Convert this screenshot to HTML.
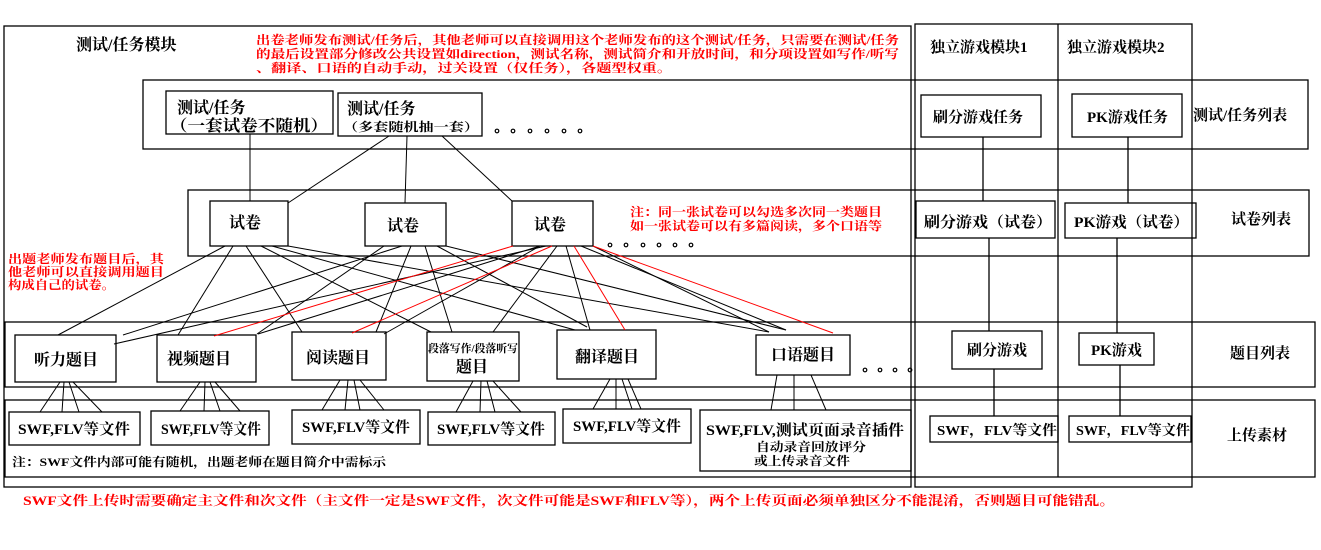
<!DOCTYPE html>
<html><head><meta charset="utf-8"><style>
html,body{margin:0;padding:0;background:#fff;}
svg{display:block;}
text{font-family:"Liberation Serif","Noto Serif CJK SC",serif;font-weight:bold;fill:#000;}
.r{fill:#f00;}
</style></head><body>
<svg width="1321" height="550" viewBox="0 0 1321 550" xmlns="http://www.w3.org/2000/svg">
<g fill="none" stroke="#000" stroke-width="1.3">
<rect x="4" y="26" width="907" height="461"/>
<rect x="915" y="24" width="277" height="463"/>
<line x1="1058" y1="24" x2="1058" y2="477"/>
<rect x="143" y="80" width="1165" height="69"/>
<rect x="188" y="190" width="1121" height="66"/>
<rect x="5" y="322" width="1310" height="65"/>
<rect x="5" y="400" width="1310" height="77"/>
<rect x="166" y="91" width="167" height="43"/>
<rect x="338" y="93" width="144" height="43"/>
<rect x="210" y="201" width="78" height="45"/>
<rect x="365" y="203" width="81" height="43"/>
<rect x="512" y="201" width="81" height="45"/>
<rect x="15" y="335" width="101" height="47"/>
<rect x="157" y="335" width="99" height="47"/>
<rect x="292" y="332" width="94" height="48"/>
<rect x="427" y="332" width="92" height="49"/>
<rect x="557" y="330" width="99" height="49"/>
<rect x="756" y="335" width="94" height="40"/>
<rect x="9" y="412" width="131" height="33"/>
<rect x="151" y="411" width="118" height="34"/>
<rect x="292" y="410" width="128" height="34"/>
<rect x="428" y="412" width="127" height="33"/>
<rect x="563" y="409" width="128" height="34"/>
<rect x="700" y="410" width="211" height="61"/>
<rect x="921" y="95" width="120" height="42"/>
<rect x="1072" y="94" width="110" height="43"/>
<rect x="916" y="201" width="139" height="37"/>
<rect x="1065" y="203" width="131" height="35"/>
<rect x="952" y="331" width="90" height="38"/>
<rect x="1079" y="333" width="75" height="32"/>
<rect x="930" y="416" width="128" height="26"/>
<rect x="1069" y="416" width="122" height="26"/>
<line x1="983" y1="137" x2="983" y2="201"/>
<line x1="1128" y1="137" x2="1128" y2="203"/>
<line x1="989" y1="238" x2="989" y2="331"/>
<line x1="1117" y1="238" x2="1117" y2="333"/>
<line x1="994" y1="369" x2="994" y2="416"/>
<line x1="1120" y1="365" x2="1120" y2="416"/>
</g>
<g fill="none" stroke="#000" stroke-width="1.2">
<circle cx="497" cy="131" r="1.8"/><circle cx="513" cy="131" r="1.8"/><circle cx="530" cy="131" r="1.8"/><circle cx="547" cy="131" r="1.8"/><circle cx="564" cy="131" r="1.8"/><circle cx="580" cy="131" r="1.8"/>
<circle cx="610" cy="245" r="1.8"/><circle cx="626" cy="245" r="1.8"/><circle cx="643" cy="245" r="1.8"/><circle cx="659" cy="245" r="1.8"/><circle cx="675" cy="245" r="1.8"/><circle cx="691" cy="245" r="1.8"/>
<circle cx="865" cy="370" r="1.8"/><circle cx="880" cy="370" r="1.8"/><circle cx="895" cy="370" r="1.8"/><circle cx="910" cy="370" r="1.8"/>
</g>
<g stroke="#000" stroke-width="1">
<line x1="250" y1="134" x2="250" y2="201"/>
<line x1="389" y1="136" x2="288" y2="203"/>
<line x1="407" y1="136" x2="405" y2="203"/>
<line x1="442" y1="136" x2="512" y2="201"/>
<line x1="225" y1="246" x2="58" y2="335"/>
<line x1="233" y1="246" x2="178" y2="335"/>
<line x1="246" y1="246" x2="302" y2="332"/>
<line x1="261" y1="246" x2="431" y2="332"/>
<line x1="272" y1="246" x2="575" y2="330"/>
<line x1="288" y1="246" x2="769" y2="332"/>
<line x1="384" y1="246" x2="257" y2="334"/>
<line x1="402" y1="246" x2="123" y2="335"/>
<line x1="411" y1="246" x2="376" y2="332"/>
<line x1="425" y1="246" x2="452" y2="332"/>
<line x1="437" y1="246" x2="587" y2="327"/>
<line x1="446" y1="246" x2="786" y2="330"/>
<line x1="546" y1="246" x2="114" y2="344"/>
<line x1="540" y1="246" x2="258" y2="334"/>
<line x1="540" y1="246" x2="384" y2="334"/>
<line x1="557" y1="246" x2="493" y2="332"/>
<line x1="566" y1="246" x2="590" y2="330"/>
<line x1="581" y1="246" x2="786" y2="330"/>
<line x1="593" y1="246" x2="769" y2="332"/>
<line x1="60" y1="382" x2="40" y2="412"/><line x1="64" y1="382" x2="62" y2="412"/><line x1="69" y1="382" x2="79" y2="412"/><line x1="73" y1="382" x2="102" y2="412"/>
<line x1="200" y1="382" x2="180" y2="411"/><line x1="205" y1="382" x2="204" y2="411"/><line x1="210" y1="382" x2="220" y2="411"/><line x1="215" y1="382" x2="240" y2="411"/>
<line x1="340" y1="380" x2="322" y2="410"/><line x1="348" y1="380" x2="345" y2="410"/><line x1="354" y1="380" x2="360" y2="410"/><line x1="360" y1="380" x2="384" y2="410"/>
<line x1="473" y1="381" x2="456" y2="412"/><line x1="481" y1="381" x2="480" y2="412"/><line x1="487" y1="381" x2="495" y2="412"/><line x1="493" y1="381" x2="521" y2="412"/>
<line x1="610" y1="379" x2="593" y2="409"/><line x1="616" y1="379" x2="616" y2="409"/><line x1="622" y1="379" x2="632" y2="409"/><line x1="628" y1="379" x2="641" y2="409"/>
<line x1="777" y1="375" x2="771" y2="410"/><line x1="794" y1="375" x2="794" y2="410"/><line x1="811" y1="375" x2="826" y2="410"/>
</g>
<g stroke="#f00" stroke-width="1">
<line x1="513" y1="246" x2="214" y2="336"/>
<line x1="552" y1="246" x2="352" y2="333"/>
<line x1="574" y1="246" x2="625" y2="330"/>
<line x1="593" y1="246" x2="833" y2="333"/>
</g>
<text x="76" y="50" font-size="16">测试/任务模块</text>
<text class="r" x="256" y="44" font-size="12" textLength="643" lengthAdjust="spacingAndGlyphs">出卷老师发布测试/任务后，其他老师可以直接调用这个老师发布的这个测试/任务，只需要在测试/任务</text>
<text class="r" x="256" y="58" font-size="12" textLength="643" lengthAdjust="spacingAndGlyphs">的最后设置部分修改公共设置如direction，测试名称，测试简介和开放时间，和分项设置如写作/听写</text>
<text class="r" x="256" y="72" font-size="12" textLength="416" lengthAdjust="spacingAndGlyphs">、翻译、口语的自动手动，过关设置（仅任务），各题型权重。</text>
<text x="177" y="113" font-size="16">测试/任务</text>
<text x="170" y="131" font-size="16" textLength="158" lengthAdjust="spacingAndGlyphs">（一套试卷不随机）</text>
<text x="347" y="114" font-size="16">测试/任务</text>
<text x="343" y="131" font-size="12" textLength="136" lengthAdjust="spacingAndGlyphs">（多套随机抽一套）</text>
<text x="229" y="228" font-size="16">试卷</text>
<text x="387" y="231" font-size="16">试卷</text>
<text x="534" y="230" font-size="16">试卷</text>
<text class="r" x="630" y="216" font-size="12" textLength="252" lengthAdjust="spacingAndGlyphs">注：同一张试卷可以勾选多次同一类题目</text>
<text class="r" x="630" y="230" font-size="12" textLength="252" lengthAdjust="spacingAndGlyphs">如一张试卷可以有多篇阅读，多个口语等</text>
<text class="r" x="8" y="263" font-size="12" textLength="156" lengthAdjust="spacingAndGlyphs">出题老师发布题目后，其</text>
<text class="r" x="8" y="276" font-size="12" textLength="156" lengthAdjust="spacingAndGlyphs">他老师可以直接调用题目</text>
<text class="r" x="8" y="289" font-size="12" textLength="107" lengthAdjust="spacingAndGlyphs">构成自己的试卷。</text>
<text x="34" y="365" font-size="16">听力题目</text>
<text x="167" y="364" font-size="16">视频题目</text>
<text x="306" y="363" font-size="16">阅读题目</text>
<text x="428" y="352" font-size="11" textLength="90" lengthAdjust="spacingAndGlyphs">段落写作/段落听写</text>
<text x="456" y="372" font-size="16">题目</text>
<text x="575" y="362" font-size="16">翻译题目</text>
<text x="771" y="360" font-size="16">口语题目</text>
<text x="18" y="434" font-size="15" textLength="112" lengthAdjust="spacingAndGlyphs">SWF,FLV等文件</text>
<text x="161" y="434" font-size="15" textLength="100" lengthAdjust="spacingAndGlyphs">SWF,FLV等文件</text>
<text x="302" y="432" font-size="15" textLength="108" lengthAdjust="spacingAndGlyphs">SWF,FLV等文件</text>
<text x="437" y="434" font-size="15" textLength="108" lengthAdjust="spacingAndGlyphs">SWF,FLV等文件</text>
<text x="573" y="431" font-size="15" textLength="108" lengthAdjust="spacingAndGlyphs">SWF,FLV等文件</text>
<text x="706" y="435" font-size="15" textLength="198" lengthAdjust="spacingAndGlyphs">SWF,FLV,测试页面录音插件</text>
<text x="756" y="451" font-size="12" textLength="110" lengthAdjust="spacingAndGlyphs">自动录音回放评分</text>
<text x="754" y="465" font-size="12" textLength="96" lengthAdjust="spacingAndGlyphs">或上传录音文件</text>
<text x="12" y="466" font-size="12" textLength="374" lengthAdjust="spacingAndGlyphs">注：SWF文件内部可能有随机，出题老师在题目简介中需标示</text>
<text x="930" y="52" font-size="15">独立游戏模块1</text>
<text x="1067" y="52" font-size="15">独立游戏模块2</text>
<text x="933" y="122" font-size="15">刷分游戏任务</text>
<text x="1087" y="122" font-size="15">PK游戏任务</text>
<text x="1193" y="120" font-size="15">测试/任务列表</text>
<text x="924" y="227" font-size="15" textLength="128" lengthAdjust="spacingAndGlyphs">刷分游戏（试卷）</text>
<text x="1074" y="227" font-size="15" textLength="115" lengthAdjust="spacingAndGlyphs">PK游戏（试卷）</text>
<text x="1231" y="224" font-size="15">试卷列表</text>
<text x="967" y="355" font-size="15">刷分游戏</text>
<text x="1091" y="355" font-size="15">PK游戏</text>
<text x="1230" y="358" font-size="15">题目列表</text>
<text x="937" y="435" font-size="14" textLength="120" lengthAdjust="spacingAndGlyphs">SWF，FLV等文件</text>
<text x="1076" y="435" font-size="14" textLength="114" lengthAdjust="spacingAndGlyphs">SWF，FLV等文件</text>
<text x="1227" y="440" font-size="15">上传素材</text>
<text class="r" x="23" y="505" font-size="13" textLength="1092" lengthAdjust="spacingAndGlyphs">SWF文件上传时需要确定主文件和次文件（主文件一定是SWF文件，次文件可能是SWF和FLV等），两个上传页面必须单独区分不能混淆，否则题目可能错乱。</text>
</svg>
</body></html>
